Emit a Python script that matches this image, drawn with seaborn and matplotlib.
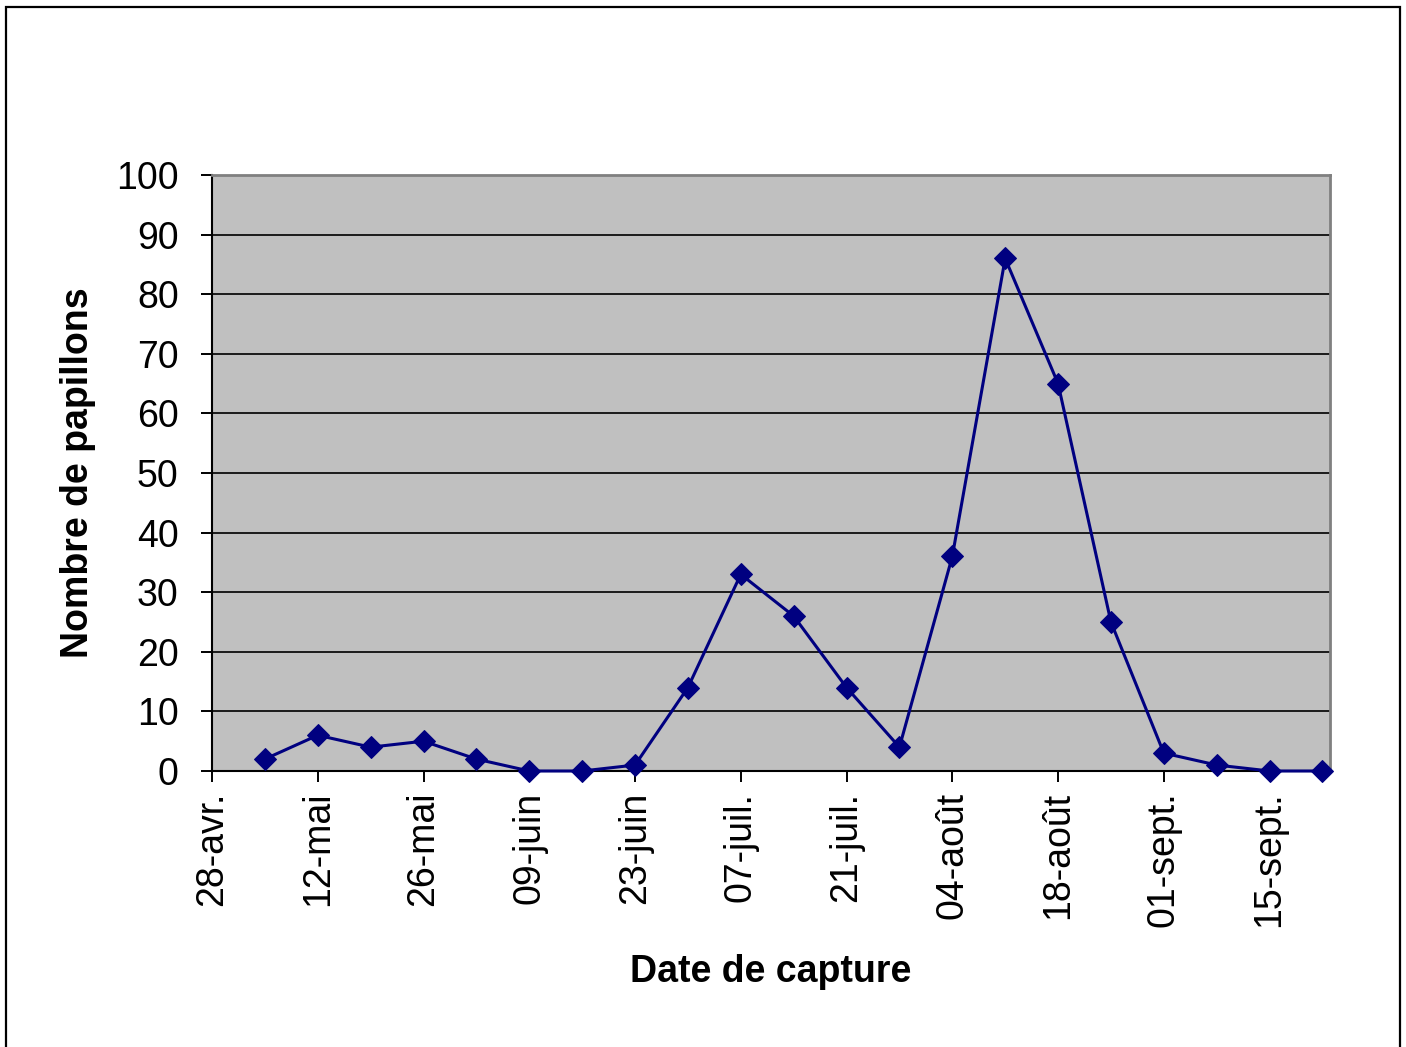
import matplotlib
matplotlib.use("Agg")
import matplotlib.pyplot as plt
import matplotlib.patches as mpatches
import pandas as pd
import seaborn as sns

# dates de capture (hebdomadaires) et nombre de papillons
capture_dates = ["2007-05-05", "2007-05-12", "2007-05-19", "2007-05-26", "2007-06-02",
                 "2007-06-09", "2007-06-16", "2007-06-23", "2007-06-30", "2007-07-07",
                 "2007-07-14", "2007-07-21", "2007-07-28", "2007-08-04", "2007-08-11",
                 "2007-08-18", "2007-08-25", "2007-09-01", "2007-09-08", "2007-09-15",
                 "2007-09-22"]
papillons = [2, 6, 4, 5, 2, 0, 0, 1, 14, 33, 26, 14, 4, 36, 86, 65, 25, 3, 1, 0, 0]

tick_dates = ["2007-04-28", "2007-05-12", "2007-05-26", "2007-06-09", "2007-06-23",
              "2007-07-07", "2007-07-21", "2007-08-04", "2007-08-18", "2007-09-01",
              "2007-09-15"]
tick_labels = ["28-avr.", "12-mai", "26-mai", "09-juin", "23-juin", "07-juil.",
               "21-juil.", "04-août", "18-août", "01-sept.", "15-sept."]

df = pd.DataFrame({"date": pd.to_datetime(capture_dates), "n": papillons})

sns.set_theme(style="white")
plt.rcParams["font.family"] = ["Liberation Sans", "DejaVu Sans"]

fig = plt.figure(figsize=(14.06, 10.47), dpi=100)
ax = fig.add_axes([212 / 1406, 1 - 771 / 1047, 1118 / 1406, 596 / 1047])
ax.set_facecolor("#C0C0C0")

sns.lineplot(data=df, x="date", y="n", ax=ax, color="#000080", linewidth=2.2,
             marker="D", markersize=11.5, markeredgecolor="#000080", clip_on=False, zorder=5)

ax.set_ylim(0, 100)
ax.set_yticks(range(0, 101, 10))
ax.set_xlim(pd.Timestamp("2007-04-28"), pd.Timestamp("2007-09-23"))
ax.set_xticks(pd.to_datetime(tick_dates))
ax.set_xticklabels(tick_labels, rotation=90)

for y in range(10, 100, 10):
    ax.axhline(y, color="#1a1a1a", linewidth=1.4, zorder=1)

ax.tick_params(axis="both", direction="out", length=8, width=1.4, color="black",
               labelsize=27, labelcolor="black", bottom=True, left=True)
ax.tick_params(axis="y", pad=16)
ax.tick_params(axis="x", pad=7)

for side in ["left", "bottom"]:
    ax.spines[side].set_color("black")
    ax.spines[side].set_linewidth(1.5)
for side in ["top", "right"]:
    ax.spines[side].set_color("#808080")
    ax.spines[side].set_linewidth(2)

ax.set_xlabel("Date de capture", fontsize=27, fontweight="bold", color="black")
ax.set_ylabel("Nombre de papillons", fontsize=27, fontweight="bold", color="black")
ax.xaxis.set_label_coords(0.5, (771 - 972) / 596)
ax.xaxis.label.set_va("center")
ax.yaxis.set_label_coords((78 - 212) / 1118, 0.5)
ax.yaxis.label.set_va("center")

# cadre extérieur du graphique
fig.patches.append(mpatches.Rectangle((6 / 1406, -0.1), 1394 / 1406, 1.1 - 7 / 1047,
                                      transform=fig.transFigure, fill=False,
                                      edgecolor="black", linewidth=1.6))

fig.savefig("out.png", dpi=100)
